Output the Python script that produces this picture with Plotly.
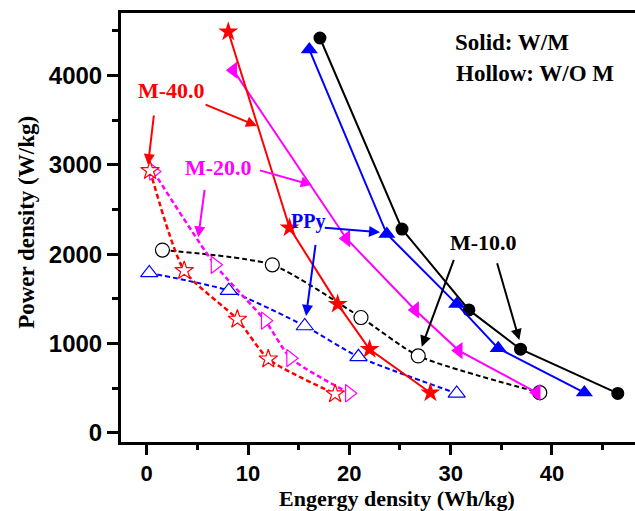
import plotly.graph_objects as go

# ---- data ----
e_m10_wm = [17.1, 25.2, 31.8, 36.9, 46.5]
p_m10_wm = [4420, 2280, 1375, 935, 440]
e_ppy_wm = [16.05, 23.7, 30.6, 34.7, 43.2]
p_ppy_wm = [4290, 2225, 1440, 945, 450]
e_m20_wm = [8.55, 19.7, 26.5, 30.8, 38.5]
p_m20_wm = [4060, 2175, 1375, 920, 450]
e_m40_wm = [8.05, 14.1, 18.85, 22.0, 28.0]
p_m40_wm = [4490, 2295, 1440, 935, 448]

e_m10_wo = [1.55, 12.4, 21.15, 26.8, 38.8]
p_m10_wo = [2045, 1880, 1290, 860, 448]
e_ppy_wo = [0.25, 8.1, 15.6, 20.9, 30.6]
p_ppy_wo = [1790, 1590, 1195, 850, 440]
e_m20_wo = [0.66, 6.74, 11.7, 14.2, 20.0]
p_m20_wo = [2925, 1880, 1255, 835, 442]
e_m40_wo = [0.33, 3.7, 8.95, 12.0, 18.6]
p_m40_wo = [2935, 1815, 1270, 825, 435]

x_ticks = [0, 10, 20, 30, 40]
y_ticks = [0, 1000, 2000, 3000, 4000]

RED, BLUE, MAG, BLK = "#FF0000", "#0000FF", "#FF00FF", "#000000"
SERIF = "Liberation Serif, Times New Roman, serif"
SANS = "Liberation Sans, Arial, sans-serif"

fig = go.Figure()

hollow = [
    (e_m10_wo, p_m10_wo, BLK, "circle", 14, 2),
    (e_ppy_wo, p_ppy_wo, BLUE, "triangle-up", 15, 2),
    (e_m20_wo, p_m20_wo, MAG, "triangle-right", 15, 2.5),
    (e_m40_wo, p_m40_wo, RED, "star", 14, 2.5),
]
for ex, py, c, sym, sz, lw in hollow:
    fig.add_trace(go.Scatter(
        x=ex, y=py, mode="lines+markers",
        line=dict(color=c, width=lw, dash="5px,3px", shape="spline", smoothing=0.6),
        marker=dict(symbol=sym, size=sz, color="white", line=dict(color=c, width=1.2)),
        showlegend=False, cliponaxis=False))

solid = [
    (e_m10_wm, p_m10_wm, BLK, "circle", 13),
    (e_ppy_wm, p_ppy_wm, BLUE, "triangle-up", 15),
    (e_m20_wm, p_m20_wm, MAG, "triangle-left", 15),
    (e_m40_wm, p_m40_wm, RED, "star", 15),
]
for ex, py, c, sym, sz in solid:
    fig.add_trace(go.Scatter(
        x=ex, y=py, mode="lines+markers",
        line=dict(color=c, width=2),
        marker=dict(symbol=sym, size=sz, color=c, line=dict(width=0)),
        showlegend=False, cliponaxis=False))

def label(x, y, text, color, size=22, xanchor="center"):
    fig.add_annotation(x=x, y=y, text=text, showarrow=False, xanchor=xanchor,
                       yanchor="middle",
                       font=dict(family=SERIF, size=size, color=color, weight="bold"))

def arrow(x0, y0, x1, y1, color):
    fig.add_annotation(x=x1, y=y1, ax=x0, ay=y0, xref="x", yref="y",
                       axref="x", ayref="y", text="", showarrow=True,
                       arrowhead=2, arrowsize=1.1, arrowwidth=2,
                       arrowcolor=color, standoff=0, startstandoff=0)

label(2.45, 3827, "M-40.0", RED)
arrow(5.66, 3681, 10.89, 3435, RED)
arrow(0.72, 3569, 0.13, 2998, RED)

label(7.04, 2965, "M-20.0", MAG)
arrow(11.02, 2942, 16.29, 2774, MAG)
arrow(5.73, 2737, 5.09, 2188, MAG)

label(15.93, 2363, "PPy", BLUE, size=20)
arrow(17.43, 2296, 23.03, 2244, BLUE)
arrow(16.68, 2121, 15.73, 1307, BLUE)

label(33.2, 2128, "M-10.0", BLK)
arrow(30.37, 1953, 27.15, 963, BLK)
arrow(34.55, 1915, 36.78, 1038, BLK)

label(30.24, 4365, "Solid: W/M", BLK, size=23, xanchor="left")
label(30.34, 4017, "Hollow: W/O M", BLK, size=23, xanchor="left")

# axis titles
fig.add_annotation(xref="paper", yref="paper", x=-0.183, y=0.513,
                   text="Power density (W/kg)", textangle=-90, showarrow=False,
                   xanchor="center", yanchor="middle",
                   font=dict(family=SERIF, size=23, color="black", weight="bold"))
fig.add_annotation(xref="paper", yref="paper", x=0.537, y=-0.131,
                   text="Engergy density (Wh/kg)", showarrow=False,
                   xanchor="center", yanchor="middle",
                   font=dict(family=SERIF, size=22, color="black", weight="bold"))

fig.update_layout(
    width=635, height=511,
    margin=dict(l=121, r=0, t=13, b=69),
    plot_bgcolor="white", paper_bgcolor="white",
    showlegend=False,
)
fig.update_xaxes(
    range=[-2.54, 48.2], tickvals=x_ticks, ticktext=[str(v) for v in x_ticks],
    automargin=False,
    showgrid=False, zeroline=False, showline=True, linecolor="black", linewidth=3,
    mirror=True, ticks="outside", ticklen=10, tickwidth=3, tickcolor="black",
    minor=dict(dtick=5, tick0=0, ticks="outside", ticklen=5, tickwidth=3, tickcolor="black"),
    tickfont=dict(family=SANS, size=22, color="black", weight="bold"),
)
fig.update_yaxes(
    range=[-104, 4700], tickvals=y_ticks, ticktext=[str(v) for v in y_ticks],
    automargin=False,
    showgrid=False, zeroline=False, showline=True, linecolor="black", linewidth=3,
    mirror=False, ticks="outside", ticklen=11, tickwidth=3, tickcolor="black",
    minor=dict(dtick=500, tick0=0, ticks="outside", ticklen=6, tickwidth=3, tickcolor="black"),
    tickfont=dict(family=SANS, size=24, color="black", weight="bold"),
)

fig.write_html("out.html", config={"displayModeBar": False},
               post_script="document.body.style.margin='0';document.body.style.overflow='hidden';")
